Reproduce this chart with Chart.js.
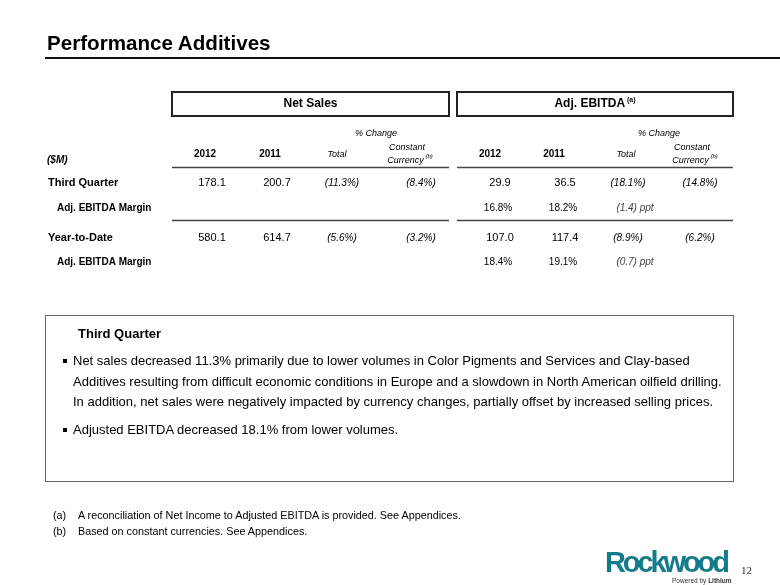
<!DOCTYPE html>
<html>
<head>
<meta charset="utf-8">
<script src="https://cdn.jsdelivr.net/npm/chart.js@4.4.0/dist/chart.umd.min.js"></script>
<style>
  body { margin: 0; background: #fff; font-family: Arial, "Liberation Sans", sans-serif; color: #000; }
  #page { position: relative; width: 780px; height: 585px; overflow: hidden; }
  #myChart { position: absolute; left: 0; top: 0; }
  .title { position: absolute; left: 47px; top: 30px; font-size: 20.6px; font-weight: bold; line-height: 25px; }
  .rule { position: absolute; left: 45px; top: 57px; width: 735px; height: 2px; background: #111; }
  .notes { position: absolute; left: 45px; top: 315px; width: 689px; height: 167px; border: 1px solid #666; box-sizing: border-box; }
  .notes h4 { position: absolute; left: 32px; top: 10px; margin: 0; font-size: 13px; line-height: 16px; }
  .notes ul { position: absolute; left: 0; top: 35px; margin: 0; padding: 0; list-style: none; font-size: 13px; line-height: 20.7px; }
  .notes li { position: relative; padding-left: 27px; margin-bottom: 7px; }
  .notes li::before { content: ""; position: absolute; left: 17px; top: 8px; width: 4px; height: 4px; background: #000; }
  .foot { position: absolute; left: 53px; font-size: 10.8px; line-height: 14px; }
  .foot span { display: inline-block; width: 25px; }
  .logo { position: absolute; left: 605px; top: 546px; font-size: 29px; font-weight: bold; color: #137b8a; letter-spacing: -3.1px; line-height: 32px; }
  .powered { position: absolute; left: 672px; top: 577px; font-size: 6.5px; color: #333; line-height: 8px; }
  .pgnum { position: absolute; left: 741px; top: 564px; font-size: 11px; font-family: "Liberation Serif", "DejaVu Serif", serif; color: #333; }
</style>
</head>
<body>
<div id="page">
  <canvas id="myChart" width="780" height="585"></canvas>
  <div class="title">Performance Additives</div>
  <div class="rule"></div>
  <div class="notes">
    <h4>Third Quarter</h4>
    <ul>
      <li>Net sales decreased 11.3% primarily due to lower volumes in Color Pigments and Services and Clay-based<br>Additives resulting from difficult economic conditions in Europe and a slowdown in North American oilfield drilling.<br>In addition, net sales were negatively impacted by currency changes, partially offset by increased selling prices.</li>
      <li>Adjusted EBITDA decreased 18.1% from lower volumes.</li>
    </ul>
  </div>
  <div class="foot" style="top:508px"><span>(a)</span>A reconciliation of Net Income to Adjusted EBITDA is provided. See Appendices.</div>
  <div class="foot" style="top:524px"><span>(b)</span>Based on constant currencies. See Appendices.</div>
  <div class="logo">Rockwood</div>
  <div class="powered">Powered by <b>Lithium</b></div>
  <div class="pgnum">12</div>
</div>
<script>
// table data ($M)
const columns = ['2012', '2011', 'Total', 'Constant Currency', '2012', '2011', 'Total', 'Constant Currency']
const rowLabels = ['($M)', 'Third Quarter', 'Adj. EBITDA Margin', 'Year-to-Date', 'Adj. EBITDA Margin']
const groups = ['Net Sales', 'Adj. EBITDA']

// index 0 = Third Quarter, index 1 = Year-to-Date
const netSales2012 = [178.1, 580.1]
const netSales2011 = [200.7, 614.7]
const netSalesTotalPct = [-11.3, -5.6]
const netSalesCcPct = [-8.4, -3.2]
const ebitda2012 = [29.9, 107.0]
const ebitda2011 = [36.5, 117.4]
const ebitdaTotalPct = [-18.1, -8.9]
const ebitdaCcPct = [-14.8, -6.2]
const margin2012 = [16.8, 18.4]
const margin2011 = [18.2, 19.1]
const marginChangePpt = [-1.4, -0.7]

const FONT = '"Liberation Sans", Arial, sans-serif'

function pct(v) {
  return v < 0 ? '(' + Math.abs(v).toFixed(1) + '%)' : v.toFixed(1) + '%'
}
function ppt(v) {
  return (v < 0 ? '(' + Math.abs(v).toFixed(1) + ')' : v.toFixed(1)) + ' ppt'
}

function text(ctx, str, x, y, font, align, color) {
  ctx.font = font + ' ' + FONT
  ctx.textAlign = align || 'center'
  ctx.textBaseline = 'middle'
  ctx.fillStyle = color || '#000'
  ctx.fillText(str, x, y)
}

// text with a small raised note like "(b)"
function withNote(ctx, str, note, x, y, font, noteFont) {
  ctx.font = font + ' ' + FONT
  let w = ctx.measureText(str).width
  ctx.font = noteFont + ' ' + FONT
  let nw = ctx.measureText(' ' + note).width
  let left = x - (w + nw) / 2
  text(ctx, str, left, y, font, 'left')
  text(ctx, ' ' + note, left + w, y - 4, noteFont, 'left')
}

const tablePlugin = {
  id: 'tableText',
  afterDraw(chart) {
    const ctx = chart.ctx
    const xs = chart.scales.x
    const ys = chart.scales.y
    const colX = i => xs.getPixelForValue(i)
    const rowY = j => ys.getPixelForValue(j)
    const half = (colX(1) - colX(0)) / 2

    ctx.save()

    // column group spans
    const spans = [
      [colX(0) - half + 2, colX(3) + half - 1],
      [colX(4) - half + 7, colX(7) + half + 3]
    ]

    // group header boxes
    spans.forEach((s, g) => {
      let top = rowY(0) - 62
      ctx.lineWidth = 2
      ctx.strokeStyle = '#222'
      ctx.strokeRect(s[0], top, s[1] - s[0], 24)
      let cx = (s[0] + s[1]) / 2
      if (g === 0) text(ctx, groups[g], cx, top + 12, 'bold 12px')
      else withNote(ctx, groups[g], '(a)', cx, top + 12, 'bold 12px', 'bold 7px')
    })

    // rules under header row and between the two periods
    ctx.lineWidth = 1.5
    ctx.strokeStyle = '#444'
    ;[(rowY(0) + rowY(1)) / 2, (rowY(2) + rowY(3)) / 2 - 1].forEach(ly => {
      spans.forEach(s => {
        ctx.beginPath()
        ctx.moveTo(s[0], ly)
        ctx.lineTo(s[1], ly)
        ctx.stroke()
      })
    })

    // column headers
    let hy = rowY(0)
    let hoffs = [0, -5, -8, -5, 5, -1, 1, 0]
    columns.forEach((c, i) => {
      let x = colX(i) + hoffs[i]
      if (c === 'Constant Currency') {
        text(ctx, 'Constant', x - 3, hy - 7, 'italic 9px')
        withNote(ctx, 'Currency', '(b)', x, hy + 6, 'italic 9px', 'italic 6px')
      } else if (c === 'Total') {
        text(ctx, c, x, hy, 'italic 9px')
      } else {
        text(ctx, c, x, hy, 'bold 10px')
      }
    })
    text(ctx, '% Change', (colX(2) + colX(3)) / 2 - 4, hy - 21, 'italic 9px')
    text(ctx, '% Change', (colX(6) + colX(7)) / 2 - 1, hy - 21, 'italic 9px')

    // row labels
    let yfix = [0, 2, 0, 3, 0]
    rowLabels.forEach((r, j) => {
      let y = rowY(j) + yfix[j]
      if (j === 0) text(ctx, r, 47, y + 6, 'bold italic 10px', 'left')
      else if (j % 2 === 1) text(ctx, r, 48, y, 'bold 11px', 'left')
      else text(ctx, r, 57, y, 'bold 10px', 'left')
    })

    // values
    ;[0, 1].forEach(k => {
      let y = rowY(1 + k * 2) + yfix[1 + k * 2]
      let rows = [
        netSales2012[k].toFixed(1), netSales2011[k].toFixed(1), pct(netSalesTotalPct[k]), pct(netSalesCcPct[k]),
        ebitda2012[k].toFixed(1), ebitda2011[k].toFixed(1), pct(ebitdaTotalPct[k]), pct(ebitdaCcPct[k])
      ]
      let offs = [7, 2, -3, 6, 15, 10, 3, 5]
      rows.forEach((v, i) => {
        let f = (i % 4 < 2) ? '11px' : 'italic 10px'
        text(ctx, v, colX(i) + offs[i], y, f)
      })
      let my = rowY(2 + k * 2)
      text(ctx, margin2012[k].toFixed(1) + '%', colX(4) + 13, my, '10px')
      text(ctx, margin2011[k].toFixed(1) + '%', colX(5) + 8, my, '10px')
      text(ctx, ppt(marginChangePpt[k]), colX(6) + 10, my, 'italic 10px', 'center', '#444')
    })

    ctx.restore()
  }
}

const ctx = document.getElementById('myChart')

new Chart(ctx, {
  type: 'bar',
  data: {
    labels: columns,
    datasets: []
  },
  options: {
    responsive: false,
    animation: false,
    events: [],
    layout: {
      padding: { left: 170, right: 50, top: 140.5, bottom: 309.5 }
    },
    scales: {
      x: { type: 'category', display: false, offset: true },
      y: { type: 'category', labels: rowLabels, display: false, offset: true }
    },
    plugins: {
      legend: { display: false },
      tooltip: { enabled: false }
    }
  },
  plugins: [tablePlugin]
})
</script>
</body>
</html>
